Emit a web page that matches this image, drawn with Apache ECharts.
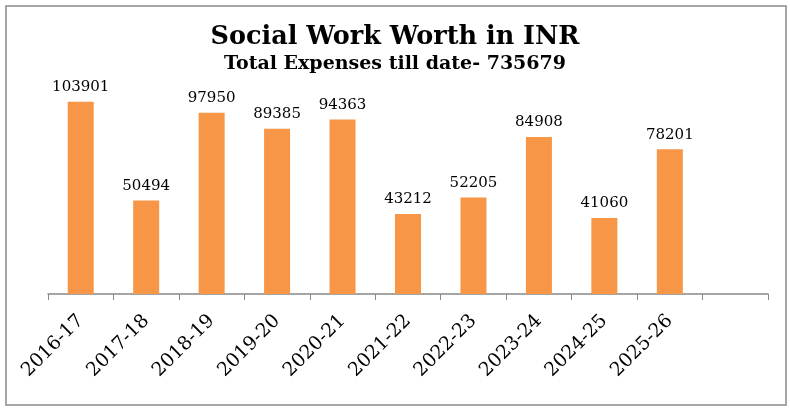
<!DOCTYPE html>
<html>
<head>
<meta charset="utf-8">
<script src="https://cdn.jsdelivr.net/npm/echarts@6/dist/echarts.min.js"></script>
<style>
html, body { margin: 0; padding: 0; background: #fff; }
#chart { width: 790px; height: 411px; }
</style>
</head>
<body>
<div id="chart"></div>
<script>
// fiscal years and expenses (INR)
var years = ['2016-17', '2017-18', '2018-19', '2019-20', '2020-21', '2021-22', '2022-23', '2023-24', '2024-25', '2025-26', ''];
var expenses = [103901, 50494, 97950, 89385, 94363, 43212, 52205, 84908, 41060, 78201, null];
var totalExpenses = 735679;

var serif = '"DejaVu Serif", "Liberation Serif", serif';

var myChart = echarts.init(document.getElementById('chart'));
myChart.setOption({
	animation: false,
	title: {
		text: 'Social Work Worth in INR',
		subtext: 'Total Expenses till date- ' + totalExpenses,
		left: 'center',
		top: 19,
		itemGap: 5,
		textStyle: { fontFamily: serif, fontWeight: 'bold', fontSize: 25.5, color: '#000' },
		subtextStyle: { fontFamily: serif, fontWeight: 'bold', fontSize: 19, color: '#000' }
	},
	graphic: [{
		type: 'rect',
		shape: { x: 6, y: 6, width: 780, height: 399 },
		style: { fill: 'none', stroke: '#8a8a8a', lineWidth: 1.5 },
		silent: true
	}],
	grid: { left: 48, right: 22, top: 72, bottom: 117 },
	xAxis: {
		type: 'category',
		data: years,
		axisLine: { lineStyle: { color: '#888', width: 1.5 } },
		axisTick: { show: true, length: 6, lineStyle: { color: '#888' } },
		axisLabel: {
			rotate: 45,
			interval: 0,
			margin: 24,
			fontFamily: serif,
			fontSize: 19,
			color: '#000'
		}
	},
	yAxis: {
		type: 'value',
		min: 0,
		max: 120000,
		show: false
	},
	series: [{
		type: 'bar',
		data: expenses,
		barWidth: 26,
		itemStyle: { color: '#F79646' },
		label: {
			show: true,
			position: 'top',
			distance: 7,
			fontFamily: serif,
			fontSize: 15,
			color: '#000'
		}
	}]
});
</script>
</body>
</html>
